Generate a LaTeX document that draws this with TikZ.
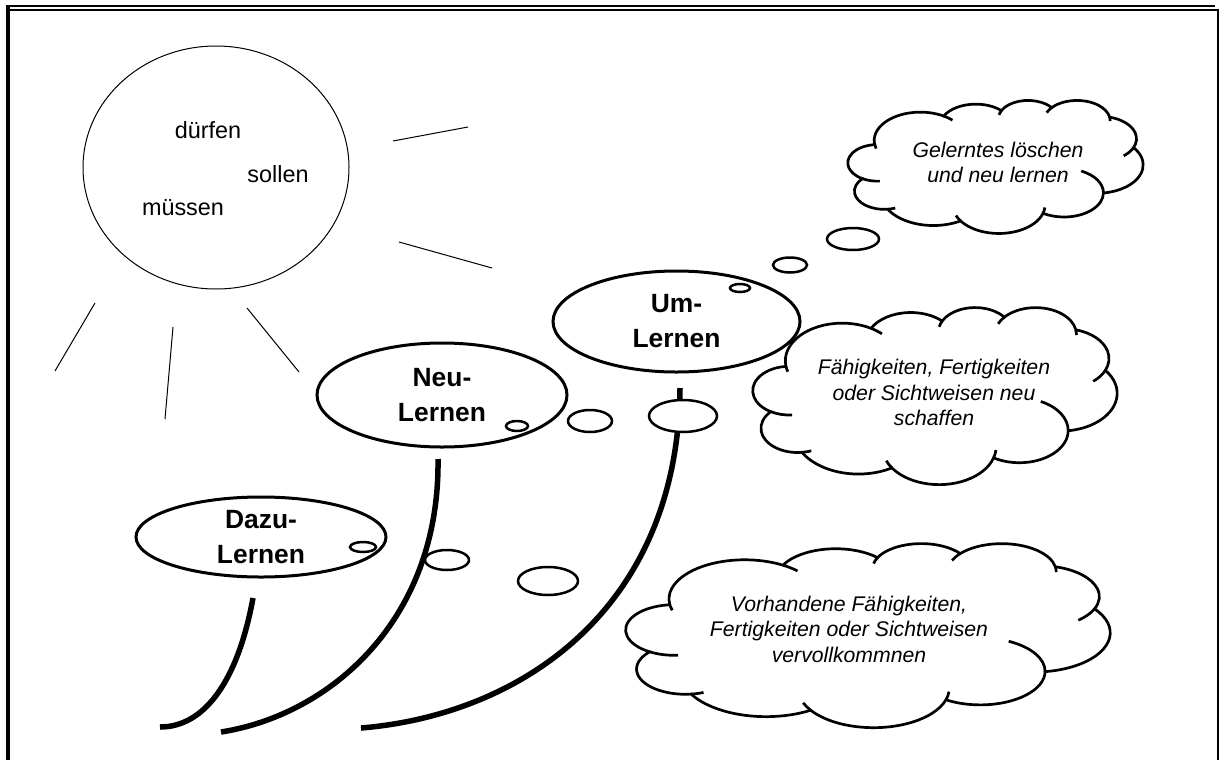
\documentclass[tikz,border=0pt]{standalone}
\usepackage{fontspec}
\setmainfont{Liberation Sans}
\usetikzlibrary{shapes.geometric}

% Cloud outline, drawn on a 432 x 432 grid (1/100 of the callout grid)
\newcommand{\wolke}{%
	\filldraw[wolkenlinie, fill=white] (39.00,143.70)
		arc[start angle=172.25, end angle=300.36, x radius=67.53, y radius=91.90]
		arc[start angle=-152.02, end angle=-45.45, x radius=53.33, y radius=72.67]
		arc[start angle=-153.49, end angle=-37.32, x radius=43.65, y radius=59.45]
		arc[start angle=-139.72, end angle=-10.22, x radius=48.57, y radius=65.95]
		arc[start angle=-74.77, end angle=23.21, x radius=53.33, y radius=72.73]
		arc[start angle=-37.53, end angle=81.86, x radius=67.75, y radius=92.20]
		arc[start angle=0.46, end angle=121.97, x radius=57.85, y radius=78.67]
		arc[start angle=16.85, end angle=146.22, x radius=67.52, y radius=92.15]
		arc[start angle=58.98, end angle=150.18, x radius=77.20, y radius=105.43]
		arc[start angle=83.31, end angle=223.12, x radius=43.60, y radius=59.18]
		arc[start angle=120.35, end angle=264.11, x radius=43.45, y radius=59.45]
		-- cycle;
	% small inner strokes at the joints
	\draw[wolkenlinie] (43.15,204.22) ++(85.54:43.45 and 59.45) arc[start angle=85.54, end angle=120.35, x radius=43.45, y radius=59.45];
	\draw[wolkenlinie] (53.01,295.97) ++(68.23:43.60 and 59.18) arc[start angle=68.23, end angle=83.31, x radius=43.60, y radius=59.18];
	\draw[wolkenlinie] (220.97,341.43) ++(146.22:67.52 and 92.15) arc[start angle=146.22, end angle=158.47, x radius=67.52, y radius=92.15];
	\draw[wolkenlinie] (220.97,341.43) ++(4.73:67.52 and 92.15) arc[start angle=4.73, end angle=16.85, x radius=67.52, y radius=92.15];
	\draw[wolkenlinie] (316.22,301.40) ++(-64.03:57.85 and 78.67) arc[start angle=-64.03, end angle=0.46, x radius=57.85, y radius=78.67];
	\draw[wolkenlinie] (369.19,125.94) ++(23.21:53.33 and 72.73) arc[start angle=23.21, end angle=49.65, x radius=53.33, y radius=72.73];
	\draw[wolkenlinie] (335.40,67.46) ++(-10.22:48.57 and 65.95) arc[start angle=-10.22, end angle=0.83, x radius=48.57, y radius=65.95];
	\draw[wolkenlinie] (335.40,67.46) ++(-156.30:48.57 and 65.95) arc[start angle=-156.30, end angle=-139.72, x radius=48.57, y radius=65.95];
	\draw[wolkenlinie] (263.63,60.86) ++(-167.72:43.65 and 59.45) arc[start angle=-167.72, end angle=-153.49, x radius=43.65, y radius=59.45];
	\draw[wolkenlinie] (105.91,131.30) ++(-59.64:67.53 and 91.90) arc[start angle=-59.64, end angle=-45.74, x radius=67.53, y radius=91.90];
	\draw[wolkenlinie] (105.91,131.30) ++(163.19:67.53 and 91.90) arc[start angle=163.19, end angle=172.25, x radius=67.53, y radius=91.90];
}

\begin{document}
\begin{tikzpicture}[x=0.5pt,y=-0.5pt]
	\tikzset{lernen/.style={draw, ellipse, line width=1.5pt, inner sep=0pt, align=center, font=\bfseries\fontsize{13.2}{17.5}\selectfont}}
	\tikzset{blase/.style={line width=1.25pt, fill=white}}
	\tikzset{stiel/.style={line width=2.75pt}}
	\tikzset{strahl/.style={line width=0.5pt}}
	\tikzset{wolkenlinie/.style={line width=1.35pt}}
	\tikzset{wolkentext/.style={align=center, font=\itshape\fontsize{10.6}{12.75}\selectfont}}
	\tikzset{wort/.style={anchor=base, font=\fontsize{11.7}{14}\selectfont}}
	
	\useasboundingbox (0,0) rectangle (1219,760);
	
	% Page border
	\draw[line width=1.2pt] (6,6.2) -- (1215,6.2);
	\draw[line width=1.8pt] (8,5.6) -- (8,760);
	\draw[line width=0.7pt] (9,10) -- (1218,10) -- (1218,760);
	
	% Sun with words
	\node[draw, ellipse, line width=0.5pt, minimum width=133pt, minimum height=121.5pt] (sonne) at (216,167.5) {};
	\node[wort] (duerfen) at (208,138) {dürfen};
	\node[wort] (sollen) at (278,182) {sollen};
	\node[wort] (muessen) at (183,215) {müssen};
	
	% Sun rays
	\draw[strahl] (393,141) -- (468,127);
	\draw[strahl] (399,242) -- (492,268);
	\draw[strahl] (95,303) -- (55,371);
	\draw[strahl] (173,327) -- (165,419);
	\draw[strahl] (247,308) -- (299,372);
	
	% Stems
	\draw[stiel] (253,598) .. controls (238,680) and (205,727) .. (160,727);
	\draw[stiel] (438,459) .. controls (440,620) and (330,715) .. (221,732);
	\draw[stiel] (680,388) .. controls (678,610) and (520,715) .. (361,728);
	
	% Thought ellipses
	\node[lernen, minimum width=125pt, minimum height=40pt] (dazu) at (261,537) {Dazu-\\Lernen};
	\node[lernen, minimum width=125pt, minimum height=52pt] (neu) at (442,395) {Neu-\\Lernen};
	\node[lernen, minimum width=123.5pt, minimum height=50.5pt] (um) at (676.5,321.5) {Um-\\Lernen};
	
	% Small bubbles
	\draw[blase] (363,547) ellipse [x radius=6.5pt, y radius=2.5pt];
	\draw[blase] (447,560) ellipse [x radius=11pt, y radius=5pt];
	\draw[blase] (548,581) ellipse [x radius=15pt, y radius=7pt];
	\draw[blase] (517,426) ellipse [x radius=5.5pt, y radius=2.5pt];
	\draw[blase] (590,421) ellipse [x radius=11pt, y radius=5.5pt];
	\draw[blase] (683,416) ellipse [x radius=17pt, y radius=8pt];
	\draw[blase] (740,288) ellipse [x radius=5pt, y radius=2pt];
	\draw[blase] (790,265) ellipse [x radius=8.5pt, y radius=3.75pt];
	\draw[blase] (853,239) ellipse [x radius=13pt, y radius=5.5pt];
	
	% Clouds
	\begin{scope}[shift={(848,100)}, xscale=295/432, yscale=133/432]
		\wolke
	\end{scope}
	\begin{scope}[shift={(753,307)}, xscale=364/432, yscale=177/432]
		\wolke
	\end{scope}
	\begin{scope}[shift={(626,543)}, xscale=484/432, yscale=184/432]
		\wolke
	\end{scope}
	
	% Cloud texts
	\node[wolkentext] (umtext) at (998,162.5) {Gelerntes löschen\\und neu lernen};
	\node[wolkentext] (neutext) at (934,392.8) {Fähigkeiten, Fertigkeiten\\oder Sichtweisen neu\\schaffen};
	\node[wolkentext] (dazutext) at (849,629) {Vorhandene Fähigkeiten,\\Fertigkeiten oder Sichtweisen\\vervollkommnen};
	
\end{tikzpicture}
\end{document}
